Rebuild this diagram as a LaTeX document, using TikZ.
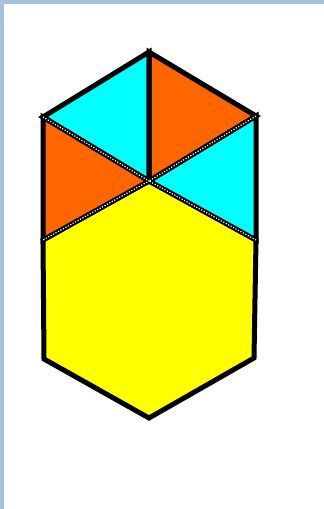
\documentclass[tikz,border=0pt]{standalone}
\begin{document}
\begin{tikzpicture}[x=1pt,y=-1pt,
  outline/.style={draw=black,line width=5pt,line join=miter},
  seam/.style={draw=white,line width=1.2pt,dash pattern=on 1.2pt off 1.6pt}]
\definecolor{frame}{RGB}{168,192,224}
\definecolor{cyanf}{RGB}{0,255,255}
\definecolor{orangef}{RGB}{255,102,0}
\definecolor{yellowf}{RGB}{255,255,0}
\useasboundingbox (0,0) rectangle (324,509);
\fill[white] (0,0) rectangle (324,509);
\fill[frame] (0,0) rectangle (324,4);
\fill[frame] (0,0) rectangle (4,509);
% points
\coordinate (C) at (149,181);
\coordinate (T) at (149,52);
\coordinate (UL) at (43,117);
\coordinate (UR) at (256,116);
\coordinate (ML) at (43,240);
\coordinate (MR) at (256,240);
\coordinate (LL) at (44,359);
\coordinate (LR) at (254,358);
\coordinate (B) at (149,418);
% hexagon
\fill[yellowf] (C) -- (MR) -- (LR) -- (B) -- (LL) -- (ML) -- cycle;
\draw[outline] (C) -- (MR) -- (LR) -- (B) -- (LL) -- (ML) -- cycle;
% triangles
\fill[cyanf] (UL) -- (T) -- (C) -- cycle;
\fill[orangef] (T) -- (UR) -- (C) -- cycle;
\fill[orangef] (UL) -- (ML) -- (C) -- cycle;
\fill[cyanf] (UR) -- (MR) -- (C) -- cycle;
\draw[outline] (UL) -- (T) -- (C) -- cycle;
\draw[outline] (T) -- (UR) -- (C) -- cycle;
\draw[outline] (UL) -- (ML) -- (C) -- cycle;
\draw[outline] (UR) -- (MR) -- (C) -- cycle;
% white dotted seams
\draw[seam] (UL) -- (C) -- (ML);
\draw[seam] (UR) -- (C) -- (MR);
\end{tikzpicture}
\end{document}
